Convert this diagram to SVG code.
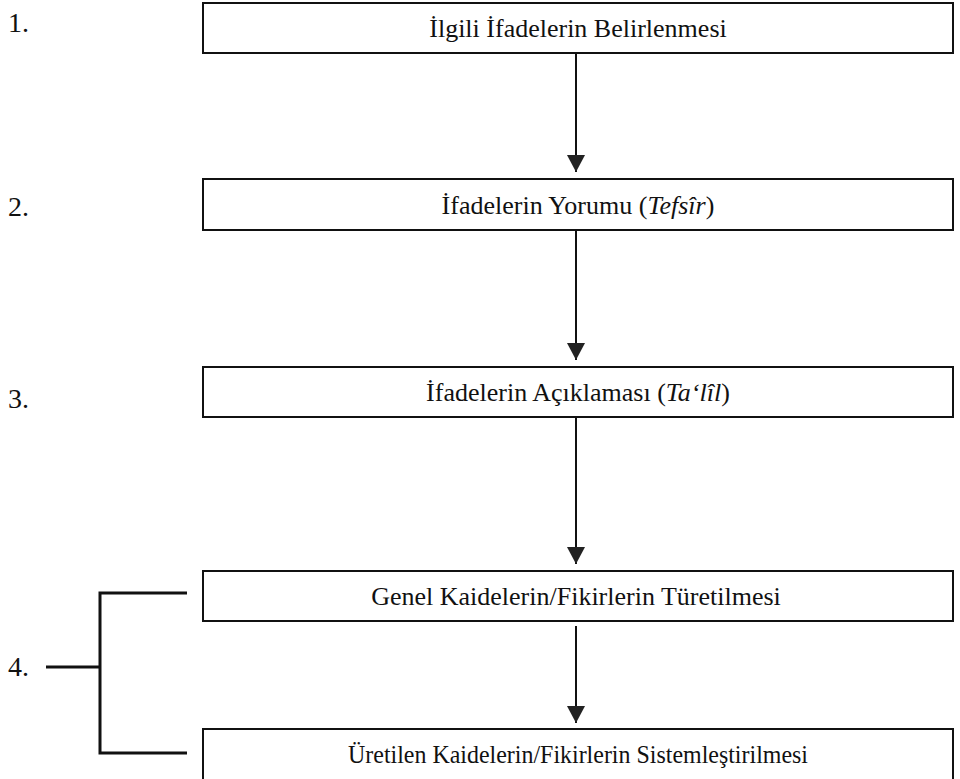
<svg xmlns="http://www.w3.org/2000/svg" width="960" height="779" viewBox="0 0 960 779">
<style>
.box{fill:#fff;stroke:#111;stroke-width:2}
.lbl{font-family:"Liberation Serif","Times New Roman",serif;font-size:26px;fill:#111;text-anchor:middle}
.num{font-family:"Liberation Serif","Times New Roman",serif;font-size:28px;fill:#111}
.conn{stroke:#111;stroke-width:2;fill:none}
.br{stroke:#111;stroke-width:3;fill:none}
</style>
<defs>
<marker id="ah" markerWidth="18" markerHeight="18" viewBox="0 0 18 18" refX="17" refY="9" orient="auto" markerUnits="userSpaceOnUse">
<path d="M0,0 L17,9 L0,18 Z" fill="#222"/>
</marker>
</defs>
<rect width="960" height="779" fill="#fff"/>
<g id="numbers">
<text class="num" x="8" y="32">1.</text>
<text class="num" x="8" y="216">2.</text>
<text class="num" x="8" y="408">3.</text>
<text class="num" x="8" y="676">4.</text>
</g>
<g id="connectors">
<line class="conn" x1="576" y1="53" x2="576" y2="172" marker-end="url(#ah)"/>
<line class="conn" x1="576" y1="230" x2="576" y2="360" marker-end="url(#ah)"/>
<line class="conn" x1="576" y1="417" x2="576" y2="564" marker-end="url(#ah)"/>
<line class="conn" x1="576" y1="626" x2="576" y2="723" marker-end="url(#ah)"/>
<path class="br" d="M187,593 H100 V753 H187 M46,667 H100"/>
</g>
<g id="n1">
<rect class="box" x="203" y="3" width="750" height="50"/>
<text class="lbl" x="578" y="37">İlgili İfadelerin Belirlenmesi</text>
</g>
<g id="n2">
<rect class="box" x="203" y="179" width="750" height="51"/>
<text class="lbl" x="578" y="214">İfadelerin Yorumu (<tspan font-style="italic">Tefsîr</tspan>)</text>
</g>
<g id="n3">
<rect class="box" x="203" y="367" width="750" height="50"/>
<text class="lbl" x="578" y="401">İfadelerin Açıklaması (<tspan font-style="italic">Ta‘lîl</tspan>)</text>
</g>
<g id="n4">
<rect class="box" x="203" y="571" width="750" height="50"/>
<text class="lbl" x="576" y="605">Genel Kaidelerin/Fikirlerin Türetilmesi</text>
</g>
<g id="n5">
<rect class="box" x="203" y="729" width="750" height="52"/>
<text class="lbl" x="578" y="763" textLength="460" lengthAdjust="spacingAndGlyphs">Üretilen Kaidelerin/Fikirlerin Sistemleştirilmesi</text>
</g>
</svg>
